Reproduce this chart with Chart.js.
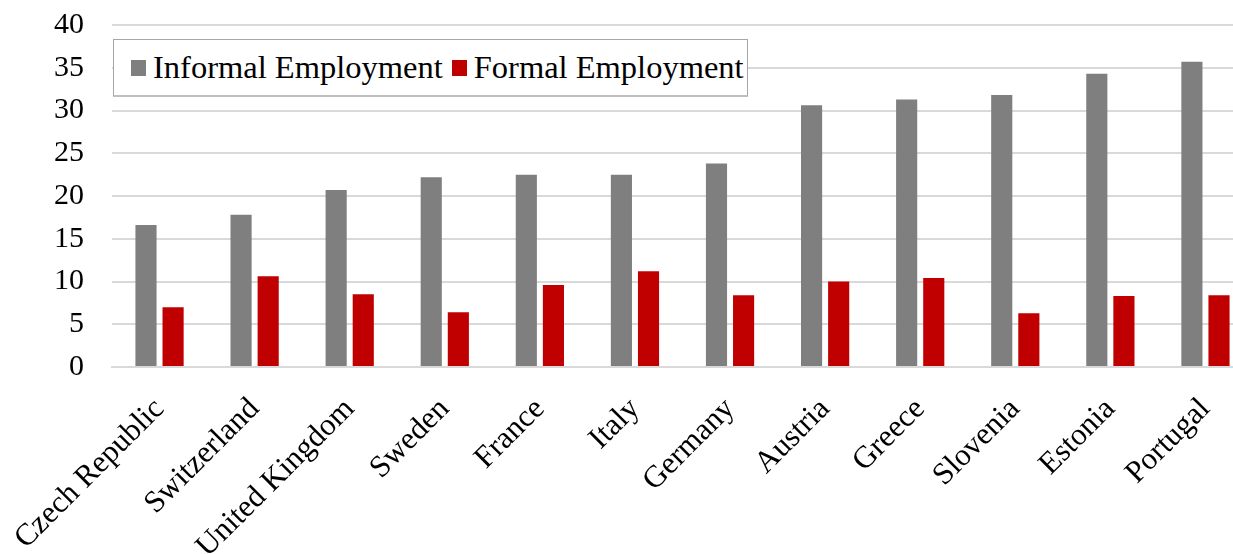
<!DOCTYPE html>
<html>
<head>
<meta charset="utf-8">
<script src="https://cdn.jsdelivr.net/npm/chart.js@4.4.1/dist/chart.umd.min.js"></script>
<style>
  html, body { margin: 0; padding: 0; background: #fff; overflow: hidden; }
  #wrap { position: relative; width: 1260px; height: 554px; }
  #legend {
    position: absolute; left: 113px; top: 39px; width: 633px; height: 55px;
    border: 1px solid #a6a6a6; border-bottom: 2px solid #bfbfbf; background: #fff;
    font-family: "Liberation Serif", "Times New Roman", serif; font-size: 32.5px;
    display: flex; align-items: center; white-space: nowrap; box-sizing: content-box;
  }
  #legend span.box { display: inline-block; width: 15px; height: 16px; margin: 0 7px 0 17px; }
</style>
</head>
<body>
<div id="wrap">
  <canvas id="chart" width="1260" height="554"></canvas>
  <div id="legend"></div>
</div>
<script>
// Datos
const countries = ['Czech Republic', 'Switzerland', 'United Kingdom', 'Sweden', 'France', 'Italy',
                   'Germany', 'Austria', 'Greece', 'Slovenia', 'Estonia', 'Portugal'];
const informalEmployment = [16.6, 17.8, 20.7, 22.2, 22.5, 22.5, 23.8, 30.6, 31.3, 31.8, 34.3, 35.7];
const formalEmployment = [7.0, 10.6, 8.5, 6.4, 9.6, 11.2, 8.4, 10.0, 10.4, 6.3, 8.3, 8.4];
const yTicks = [0, 5, 10, 15, 20, 25, 30, 35, 40];

const GRAY = '#7f7f7f';
const RED = '#c00000';
const FONT = "'Liberation Serif', 'Times New Roman', serif";

const series = [
    { label: 'Informal Employment', data: informalEmployment, color: GRAY },
    { label: 'Formal Employment', data: formalEmployment, color: RED }
];

const ctx = document.getElementById('chart').getContext('2d');
new Chart(ctx, {
    type: 'bar',
    data: {
        labels: countries,
        datasets: series.map(s => ({
            label: s.label,
            data: s.data,
            backgroundColor: s.color,
            borderWidth: 0,
            categoryPercentage: 0.57,
            barPercentage: 0.78
        }))
    },
    options: {
        responsive: false,
        animation: false,
        layout: { padding: { top: 25, right: 7, left: 0, bottom: 0 } },
        scales: {
            x: {
                grid: { display: false, drawTicks: false },
                border: { display: true, color: '#d9d9d9', width: 2 },
                ticks: {
                    color: '#000',
                    font: { family: FONT, size: 31 },
                    minRotation: 45,
                    maxRotation: 45,
                    padding: 24,
                    autoSkip: false
                },
                afterFit: scale => {
                    scale.height = 187;
                    scale.paddingLeft = 0;
                    scale.paddingRight = 0;
                }
            },
            y: {
                min: 0,
                max: 40,
                afterBuildTicks: scale => { scale.ticks = yTicks.map(v => ({ value: v })); },
                grid: { color: '#d9d9d9', lineWidth: 2, drawTicks: false },
                border: { display: false },
                ticks: {
                    color: '#000',
                    font: { family: FONT, size: 30 },
                    padding: 28
                },
                afterFit: scale => {
                    scale.width = 112;
                    scale.paddingTop = 0;
                    scale.paddingBottom = 0;
                }
            }
        },
        plugins: {
            legend: { display: false },
            tooltip: { enabled: false }
        }
    }
});

// Leyenda
document.getElementById('legend').innerHTML = series.map((s, i) =>
    `<span class="box" style="background:${s.color};${i ? 'margin-left:9px' : ''}"></span><span>${s.label}</span>`
).join('');
</script>
</body>
</html>
